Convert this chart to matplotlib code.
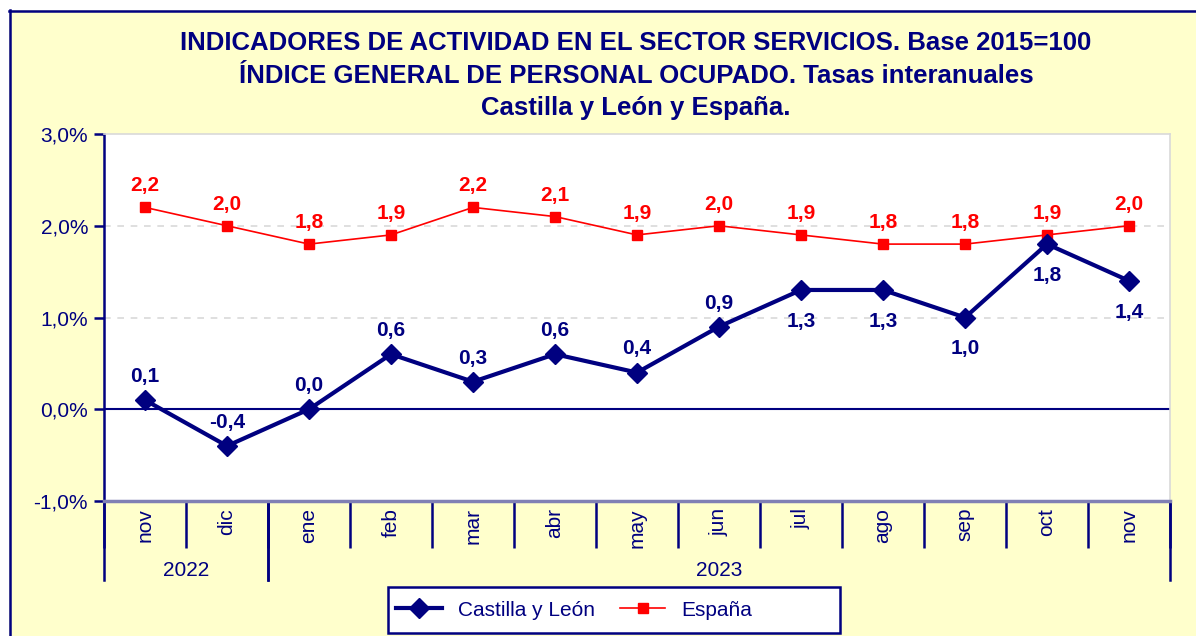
import matplotlib
matplotlib.use("Agg")
import matplotlib.pyplot as plt
from matplotlib.lines import Line2D
from matplotlib.patches import Rectangle
import matplotlib.transforms as mtransforms

months = ["nov", "dic", "ene", "feb", "mar", "abr", "may", "jun", "jul", "ago", "sep", "oct", "nov"]
years = ["2022", "2023"]
year_spans = [(0, 1), (2, 12)]
cyl = [0.1, -0.4, 0.0, 0.6, 0.3, 0.6, 0.4, 0.9, 1.3, 1.3, 1.0, 1.8, 1.4]
esp = [2.2, 2.0, 1.8, 1.9, 2.2, 2.1, 1.9, 2.0, 1.9, 1.8, 1.8, 1.9, 2.0]
cyl_below = [False] * 8 + [True] * 5
yticks = [-1.0, 0.0, 1.0, 2.0, 3.0]
title_lines = ["INDICADORES DE ACTIVIDAD EN EL SECTOR SERVICIOS. Base 2015=100",
               "ÍNDICE GENERAL DE PERSONAL OCUPADO. Tasas interanuales",
               "Castilla y León y España."]

NAVY = "#000080"
RED = "#FF0000"
YEL = "#FFFFCC"
plt.rcParams["font.family"] = ["Liberation Sans", "DejaVu Sans"]

W, H = 1196, 636
fig = plt.figure(figsize=(W / 100, H / 100), dpi=100, facecolor="white")

def fx(px):
    return px / W

def fy(py):
    return 1 - py / H

# yellow background with navy border (left and top)
fig.patches.append(Rectangle((fx(9), 0), 1, fy(10), transform=fig.transFigure,
                             facecolor=YEL, edgecolor="none", zorder=-10))
fig.lines.append(Line2D([fx(9.5), fx(9.5)], [0, fy(10)], transform=fig.transFigure,
                        color=NAVY, lw=1.8, zorder=-5))
fig.lines.append(Line2D([fx(9), 1], [fy(10.5), fy(10.5)], transform=fig.transFigure,
                        color=NAVY, lw=1.8, zorder=-5))

L, R, T, B = 104, 1170, 134, 501
ax = fig.add_axes([fx(L), fy(B), fx(R) - fx(L), fy(T) - fy(B)])
ax.set_facecolor("white")
n = len(months)
x = list(range(n))
ax.set_xlim(-0.5, n - 0.5)
ax.set_ylim(-1.0, 3.0)

# grid
for g in [1.0, 2.0]:
    ax.axhline(g, color="#D9D9D9", lw=1.2, ls=(0, (4, 4)), zorder=1)
ax.axhline(0.0, color=NAVY, lw=1.5, zorder=2)

for s in ["top", "right"]:
    ax.spines[s].set_color("#D9D9D9")
    ax.spines[s].set_linewidth(1.2)
ax.spines["left"].set_color(NAVY)
ax.spines["left"].set_linewidth(1.8)
ax.spines["bottom"].set_color("#8080B4")
ax.spines["bottom"].set_linewidth(2.5)

ax.set_yticks(yticks)
ax.set_yticklabels([f"{v:.1f}%".replace(".", ",") for v in yticks],
                   fontsize=15, color=NAVY)
ax.tick_params(axis="y", direction="out", length=7.5, width=1.8, color=NAVY, pad=4)

ax.set_xticks(x)
ax.set_xticklabels(months, rotation=90, fontsize=15, color=NAVY, va="top")
ax.tick_params(axis="x", which="major", length=0, pad=5)
ax.set_xticks([i + 0.5 for i in range(-1, n)], minor=True)
ax.tick_params(axis="x", which="minor", direction="out", length=34, width=1.8, color=NAVY)

# year separators and labels
trans = mtransforms.blended_transform_factory(ax.transData, ax.transAxes)
ylow = -(580 - B) / (B - T)
for (a, b) in year_spans:
    for xb in [a - 0.5, b + 0.5]:
        ax.add_line(Line2D([xb, xb], [0, ylow], transform=trans, color=NAVY,
                           lw=1.8, clip_on=False))
for yr, (a, b) in zip(years, year_spans):
    ax.text((a + b) / 2, -(570 - B) / (B - T), yr, transform=trans, ha="center",
            va="center", fontsize=15, color=NAVY)

# series
ax.plot(x, esp, color=RED, lw=1.2, marker="s", markersize=7, markerfacecolor=RED,
        markeredgecolor=RED, zorder=4, clip_on=False)
ax.plot(x, cyl, color=NAVY, lw=3, marker="D", markersize=10, markerfacecolor=NAVY,
        markeredgecolor=NAVY, zorder=5, clip_on=False)

for i, v in enumerate(esp):
    ax.annotate(f"{v:.1f}".replace(".", ","), (i, v), xytext=(0, 15.5),
                textcoords="offset points", ha="center", va="center",
                fontsize=15, fontweight="bold", color=RED, zorder=6)
for i, (v, below) in enumerate(zip(cyl, cyl_below)):
    off = -22.5 if below else 17
    ax.annotate(f"{v:.1f}".replace(".", ","), (i, v), xytext=(0, off),
                textcoords="offset points", ha="center", va="center",
                fontsize=15, fontweight="bold", color=NAVY, zorder=6)

# title
for k, (line, py) in enumerate(zip(title_lines, [43, 76, 108])):
    fig.text(fx(636), fy(py), line, ha="center", va="center", fontsize=18.5,
             fontweight="bold", color=NAVY)

# legend
fig.patches.append(Rectangle((fx(388), fy(633)), fx(840) - fx(388), fy(587) - fy(633),
                             transform=fig.transFigure, facecolor="white",
                             edgecolor=NAVY, lw=1.8, zorder=1))
handles = [Line2D([], [], color=NAVY, lw=3, marker="D", markersize=10),
           Line2D([], [], color=RED, lw=1.2, marker="s", markersize=7)]
leg = fig.legend(handles, ["Castilla y León", "España"], loc="center left",
                 bbox_to_anchor=(fx(392), fy(610)), ncol=2, frameon=False,
                 fontsize=15, handlelength=2.2, handletextpad=0.75, columnspacing=1.2,
                 borderaxespad=0, borderpad=0.2)
leg.set_zorder(3)
for t in leg.get_texts():
    t.set_color(NAVY)

fig.savefig("out.png", dpi=100, facecolor=fig.get_facecolor())
